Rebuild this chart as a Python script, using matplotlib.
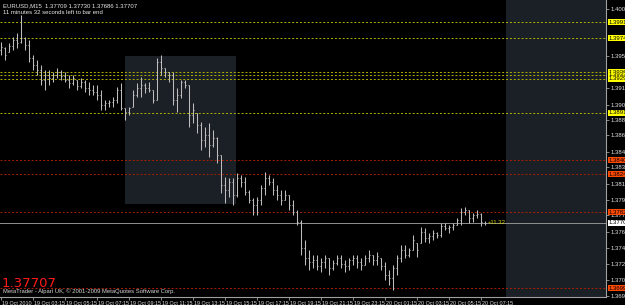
import matplotlib
matplotlib.use("Agg")
import matplotlib.pyplot as plt
import matplotlib.transforms as mtransforms
from matplotlib.patches import Rectangle

plt.rcParams['font.family'] = ['Liberation Sans', 'DejaVu Sans']

# ---------------- data ----------------
highs = [1.39698, 1.39643, 1.39687, 1.39753, 1.39797, 1.39995, 1.39753, 1.39720, 1.39555, 1.39500,
         1.39445, 1.39390, 1.39390, 1.39368, 1.39412, 1.39390, 1.39368, 1.39335, 1.39335, 1.39280,
         1.39302, 1.39280, 1.39258, 1.39225, 1.39225, 1.39170, 1.39060, 1.39060, 1.39093, 1.39203,
         1.39247, 1.38972, 1.38983, 1.39170, 1.39247, 1.39313, 1.39247, 1.39258, 1.39170, 1.39522,
         1.39555, 1.39412, 1.39368, 1.39368, 1.39192, 1.39280, 1.39280, 1.39225, 1.39027, 1.38917,
         1.38818, 1.38763, 1.38807, 1.38730, 1.38653, 1.38455, 1.38213, 1.38202, 1.38202, 1.38257,
         1.38235, 1.38213, 1.38070, 1.37982, 1.37993, 1.38125, 1.38268, 1.38235, 1.38202, 1.38125,
         1.38070, 1.38070, 1.38015, 1.37960, 1.37850, 1.37740, 1.37520, 1.37410, 1.37355, 1.37355,
         1.37322, 1.37355, 1.37322, 1.37300, 1.37355, 1.37355, 1.37300, 1.37322, 1.37355, 1.37355,
         1.37322, 1.37355, 1.37410, 1.37355, 1.37388, 1.37322, 1.37278, 1.37190, 1.37245, 1.37355,
         1.37465, 1.37465, 1.37432, 1.37575, 1.37487, 1.37663, 1.37652, 1.37597, 1.37630, 1.37608,
         1.37707, 1.37707, 1.37685, 1.37707, 1.37762, 1.37872, 1.37883, 1.37850, 1.37817, 1.37850,
         1.37817, 1.37730]
lows = [1.39555, 1.39500, 1.39588, 1.39610, 1.39632, 1.39687, 1.39610, 1.39478, 1.39390, 1.39335,
        1.39225, 1.39170, 1.39225, 1.39258, 1.39302, 1.39280, 1.39258, 1.39192, 1.39225, 1.39170,
        1.39192, 1.39148, 1.39115, 1.39115, 1.39060, 1.38950, 1.38950, 1.38983, 1.38983, 1.39027,
        1.38950, 1.38840, 1.38895, 1.38983, 1.39093, 1.39093, 1.39137, 1.39148, 1.39027, 1.39060,
        1.39335, 1.39313, 1.39258, 1.39005, 1.38928, 1.39082, 1.39192, 1.38763, 1.38807, 1.38697,
        1.38510, 1.38543, 1.38433, 1.38543, 1.38367, 1.38037, 1.37927, 1.37993, 1.37905, 1.37993,
        1.38103, 1.38015, 1.37927, 1.37795, 1.37795, 1.37905, 1.38015, 1.38125, 1.38015, 1.37960,
        1.37905, 1.37960, 1.37850, 1.37795, 1.37685, 1.37355, 1.37245, 1.37190, 1.37212, 1.37190,
        1.37168, 1.37212, 1.37135, 1.37190, 1.37245, 1.37212, 1.37168, 1.37190, 1.37245, 1.37212,
        1.37190, 1.37245, 1.37278, 1.37245, 1.37245, 1.37190, 1.37080, 1.37025, 1.36970, 1.37135,
        1.37278, 1.37322, 1.37333, 1.37410, 1.37333, 1.37487, 1.37498, 1.37487, 1.37520, 1.37542,
        1.37553, 1.37630, 1.37597, 1.37630, 1.37685, 1.37685, 1.37795, 1.37707, 1.37718, 1.37762,
        1.37674, 1.37686]
opens = [1.39610, 1.39632, 1.39588, 1.39654, 1.39720, 1.39698, 1.39742, 1.39665, 1.39522, 1.39445,
         1.39390, 1.39280, 1.39335, 1.39302, 1.39335, 1.39368, 1.39324, 1.39280, 1.39247, 1.39280,
         1.39214, 1.39258, 1.39192, 1.39170, 1.39148, 1.39115, 1.39005, 1.39027, 1.39038, 1.39060,
         1.39170, 1.38972, 1.38928, 1.38983, 1.39115, 1.39192, 1.39225, 1.39192, 1.39170, 1.39060,
         1.39478, 1.39412, 1.39368, 1.39335, 1.39060, 1.39115, 1.39258, 1.39225, 1.38895, 1.38917,
         1.38785, 1.38620, 1.38675, 1.38565, 1.38642, 1.38455, 1.38125, 1.38070, 1.38158, 1.38015,
         1.38202, 1.38158, 1.38048, 1.37960, 1.37905, 1.37960, 1.38092, 1.38202, 1.38158, 1.38070,
         1.38015, 1.37960, 1.38015, 1.37905, 1.37828, 1.37718, 1.37432, 1.37322, 1.37278, 1.37300,
         1.37234, 1.37278, 1.37322, 1.37212, 1.37267, 1.37322, 1.37256, 1.37234, 1.37300, 1.37322,
         1.37278, 1.37245, 1.37322, 1.37355, 1.37300, 1.37322, 1.37234, 1.37135, 1.37102, 1.37212,
         1.37322, 1.37410, 1.37355, 1.37410, 1.37487, 1.37487, 1.37608, 1.37542, 1.37564, 1.37597,
         1.37575, 1.37674, 1.37652, 1.37663, 1.37685, 1.37740, 1.37828, 1.37850, 1.37762, 1.37795,
         1.37806, 1.37709]
closes = [1.39643, 1.39555, 1.39654, 1.39720, 1.39687, 1.39742, 1.39665, 1.39522, 1.39445, 1.39390,
          1.39280, 1.39335, 1.39302, 1.39335, 1.39368, 1.39324, 1.39280, 1.39247, 1.39302, 1.39214,
          1.39258, 1.39192, 1.39170, 1.39148, 1.39115, 1.39005, 1.39027, 1.39038, 1.39060, 1.39170,
          1.38972, 1.38928, 1.38972, 1.39115, 1.39192, 1.39225, 1.39192, 1.39170, 1.39060, 1.39478,
          1.39412, 1.39368, 1.39335, 1.39060, 1.39115, 1.39258, 1.39225, 1.38895, 1.38950, 1.38785,
          1.38620, 1.38675, 1.38565, 1.38642, 1.38455, 1.38125, 1.38070, 1.38158, 1.38015, 1.38202,
          1.38158, 1.38048, 1.37960, 1.37905, 1.37960, 1.38092, 1.38202, 1.38158, 1.38070, 1.38015,
          1.37960, 1.38015, 1.37905, 1.37828, 1.37718, 1.37432, 1.37322, 1.37278, 1.37300, 1.37234,
          1.37278, 1.37322, 1.37212, 1.37267, 1.37322, 1.37256, 1.37234, 1.37300, 1.37322, 1.37278,
          1.37245, 1.37322, 1.37355, 1.37300, 1.37344, 1.37234, 1.37135, 1.37102, 1.37212, 1.37322,
          1.37410, 1.37355, 1.37410, 1.37520, 1.37410, 1.37608, 1.37542, 1.37564, 1.37597, 1.37575,
          1.37674, 1.37652, 1.37663, 1.37685, 1.37740, 1.37828, 1.37850, 1.37762, 1.37795, 1.37806,
          1.37718, 1.37707]

price_ticks = [1.36900, 1.37080, 1.37260, 1.37430, 1.37610, 1.37790, 1.37960, 1.38140, 1.38320,
               1.38490, 1.38670, 1.38840, 1.39010, 1.39190, 1.39540, 1.40060]
time_labels = ["19 Oct 2010", "19 Oct 03:15", "19 Oct 05:15", "19 Oct 07:15", "19 Oct 09:15",
               "19 Oct 11:15", "19 Oct 13:15", "19 Oct 15:15", "19 Oct 17:15", "19 Oct 19:15",
               "19 Oct 21:15", "19 Oct 23:15", "20 Oct 01:15", "20 Oct 03:15", "20 Oct 05:15",
               "20 Oct 07:15"]
yellow_levels = [1.39918, 1.39742, 1.39368, 1.39335, 1.39291, 1.38917]
red_levels = [1.38400, 1.38246, 1.37828, 1.36992]
last_price = 1.37707
header = "EURUSD,M15  1.37709 1.37730 1.37686 1.37707"
timer_text = "11 minutes 32 seconds left to bar end"
copyright_text = "MetaTrader - Alpari UK, \u00a9 2001-2009 MetaQuotes Software Corp."
pips_text = "+11.32"

# ---------------- figure ----------------
W, H = 625, 305
fig = plt.figure(figsize=(W / 100, H / 100), dpi=100, facecolor="black")
ax = fig.add_axes([0, 8 / H, 606 / W, 297 / H])
ax.set_facecolor("black")
ax.set_xlim(-0.25, 151.25)
ax.set_ylim(1.36893, 1.40160)

n = len(highs)
xs = list(range(n))

# shaded rectangles
ax.add_patch(Rectangle((31, 1.37916), 27.75, 1.39544 - 1.37916, facecolor="#1b1f26",
                       edgecolor="none", zorder=0.5))
ax.add_patch(Rectangle((126.25, 1.36893), 25.5, 1.40160 - 1.36893, facecolor="#1b1f26",
                       edgecolor="none", zorder=0.5))

# horizontal levels
for lv in yellow_levels:
    ax.axhline(lv, color="#b0b000", lw=0.7, ls=(0, (2, 2)), zorder=1)
for lv in red_levels:
    ax.axhline(lv, color="#a82000", lw=0.7, ls=(0, (2, 2)), zorder=1)
ax.axhline(last_price, color="#909090", lw=0.7, zorder=1)

# OHLC bars
bar_col = "#bdbdbd"
ax.vlines(xs, lows, highs, color=bar_col, lw=0.75, zorder=2)
ax.hlines(opens, [x - 0.3 for x in xs], xs, color=bar_col, lw=0.75, zorder=2)
ax.hlines(closes, xs, [x + 0.3 for x in xs], color=bar_col, lw=0.75, zorder=2)

# spines & ticks
for s in ["top", "left"]:
    ax.spines[s].set_visible(False)
for s in ["right", "bottom"]:
    ax.spines[s].set_color("#a0a0a0")
    ax.spines[s].set_linewidth(0.8)

ax.yaxis.tick_right()
ax.set_yticks(price_ticks)
ax.set_yticklabels([f"{p:.5f}" for p in price_ticks])
ax.tick_params(axis="y", colors="#a0a0a0", labelcolor="#e0e0e0", labelsize=4.3,
               length=2, width=0.6, pad=1.5)

ax.set_xticks([8 * k for k in range(len(time_labels))])
ax.set_xticklabels(time_labels, ha="left")
ax.tick_params(axis="x", colors="#a0a0a0", labelcolor="#e0e0e0", labelsize=3.9,
               length=2.5, width=0.6, pad=0.5)
offset = mtransforms.ScaledTranslation(1.5 / 100, 0, fig.dpi_scale_trans)
for lab in ax.get_xticklabels():
    lab.set_transform(lab.get_transform() + offset)

# price boxes on the right axis
trans = mtransforms.blended_transform_factory(ax.transAxes, ax.transData)
def price_box(lv, fc, tc="black"):
    ax.text(1.004, lv, f"{lv:.5f}", transform=trans, fontsize=4.3, color=tc,
            va="center", ha="left", clip_on=False, zorder=5,
            bbox=dict(boxstyle="square,pad=0.12", fc=fc, ec="none"))
for lv in yellow_levels:
    price_box(lv, "#ffff00")
for lv in red_levels:
    price_box(lv, "#ff4a00")
price_box(last_price, "#ffffff")

# texts
ax.text(3 / 606, 1 - 3 / 297, header, transform=ax.transAxes, fontsize=4.3,
        color="#e8e8e8", va="top", ha="left")
ax.text(3 / 606, 1 - 10 / 297, timer_text, transform=ax.transAxes, fontsize=4.3,
        color="#e8e8e8", va="top", ha="left")
ax.text(3 / 606, 1 - 294 / 297, copyright_text, transform=ax.transAxes, fontsize=4.2,
        color="#d8d8d8", va="bottom", ha="left")
ax.text(2 / 606, 1 - 290 / 297, f"{last_price:.5f}", transform=ax.transAxes, fontsize=9.5,
        color="#ff1a1a", va="bottom", ha="left", zorder=6, family="DejaVu Sans")
ax.text(121.8, last_price, pips_text, fontsize=4.3, color="#d0d000", va="center", ha="left")

fig.savefig("out.png", dpi=100, facecolor="black")
